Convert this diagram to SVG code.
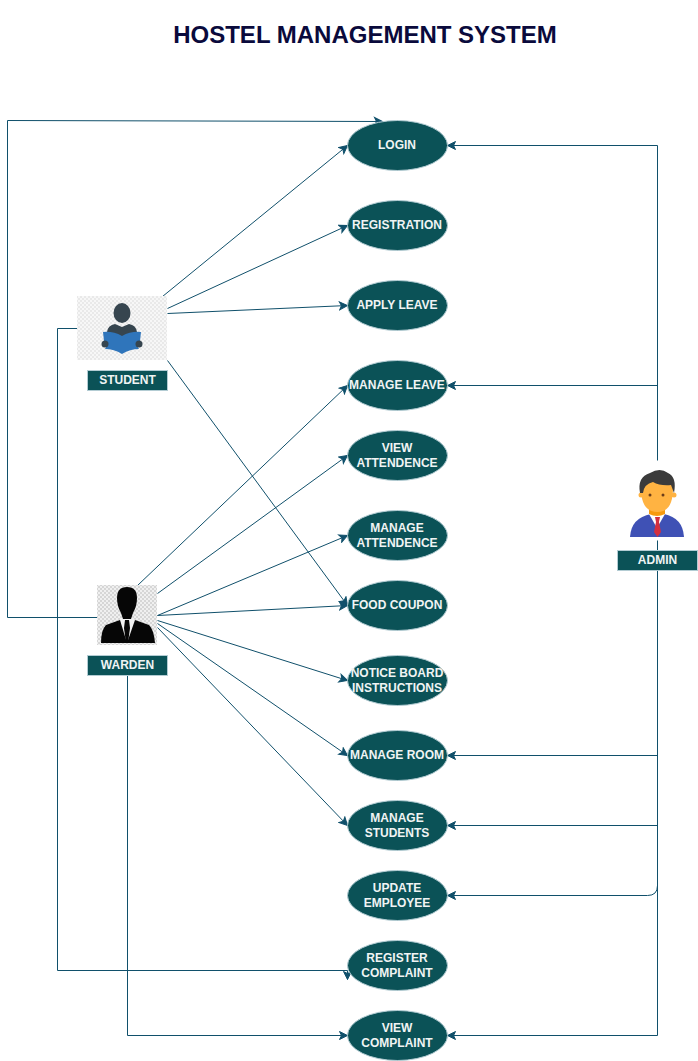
<svg xmlns="http://www.w3.org/2000/svg" width="698" height="1061" viewBox="0 0 698 1061">
<style>
.n{fill:#0b5257;stroke:#b3ccd3;stroke-width:1}
.t{font-family:"Liberation Sans",Arial,sans-serif;font-size:12px;font-weight:bold;fill:#f0f4f4;text-anchor:middle}
.c{fill:none;stroke:#10506b;stroke-width:1;marker-end:url(#a)}
.p{fill:none;stroke:#10506b;stroke-width:1}
</style>
<defs>
<marker id="a" viewBox="0 0 10 10" refX="9" refY="5" markerWidth="10" markerHeight="10" markerUnits="userSpaceOnUse" orient="auto"><path d="M1 1L9 5L1 9L3 5Z" fill="#10506b" stroke="#10506b" stroke-width="1"/></marker>
<pattern id="ck" width="4" height="4" patternUnits="userSpaceOnUse"><rect width="4" height="4" fill="#f7f7f7"/><rect width="2" height="2" fill="#e9e9e9"/><rect x="2" y="2" width="2" height="2" fill="#e9e9e9"/></pattern>
<pattern id="ck2" width="4" height="4" patternUnits="userSpaceOnUse"><rect width="4" height="4" fill="#f0f0f0"/><rect width="2" height="2" fill="#d6d6d6"/><rect x="2" y="2" width="2" height="2" fill="#d6d6d6"/></pattern>
</defs>
<text id="title" x="365" y="43" style="font-family:'Liberation Sans',Arial,sans-serif;font-size:24px;font-weight:bold;fill:#0a0a3c;text-anchor:middle">HOSTEL MANAGEMENT SYSTEM</text>
<g id="connectors" transform="translate(0.5 0.5)">
<path class="c" d="M162 296L347 145"/>
<path class="c" d="M167 308L347 225"/>
<path class="c" d="M167 313L347 305"/>
<path class="c" d="M167 360L347 605"/>
<path class="c" d="M77 328H57V970H347V979"/>
<path class="c" d="M97 617H7V120L382 121"/>
<path class="c" d="M137 585L347 385"/>
<path class="c" d="M157 593L347 455"/>
<path class="c" d="M157 615L347 535"/>
<path class="c" d="M157 615L347 605"/>
<path class="c" d="M157 620L347 680"/>
<path class="c" d="M157 623L347 755"/>
<path class="c" d="M157 627L347 825"/>
<path class="c" d="M127 675V1035H347"/>
<path class="c" d="M657 460V145H447"/>
<path class="c" d="M657 385H447"/>
<path class="p" d="M657 540V550"/>
<path class="c" d="M657 570V1035H447"/>
<path class="c" d="M657 755H447"/>
<path class="c" d="M657 825H447"/>
<path class="c" d="M657 885Q657 895 647 895H447"/>
</g>
<g id="student">
<rect x="77" y="296" width="90" height="64" fill="url(#ck)"/>
<path d="M107 332Q108 325 115 324L122 327L129 324Q136 325 137 332L122 338Z" fill="#36454f"/>
<ellipse cx="122" cy="313" rx="8.500" ry="10" fill="#36454f"/>
<path d="M103 332Q113 331 122 336Q131 331 141 332L140 341L136 344L139 349Q130 349 122 354Q114 349 105 349L108 344L104 341Z" fill="#2f75bb"/>
<circle cx="105" cy="344" r="3.500" fill="#36454f"/><circle cx="139" cy="344" r="3.500" fill="#36454f"/>
<rect class="n" x="87.500" y="370.500" width="80" height="20"/>
<text class="t" x="127.500" y="384">STUDENT</text>
</g>
<g id="warden">
<rect x="97" y="585" width="60" height="60" fill="url(#ck2)"/>
<path d="M101 643Q101 630 106 625L120 620H135L149 625Q154 630 155 643Z" fill="#060606"/>
<path d="M120 620L127 643L135 620L130 615H124Z" fill="#f2f2f2"/>
<path d="M125 620H129L130 628L128 643H126L124 628Z" fill="#060606"/>
<path d="M117 598Q117 587 127 587Q137 587 137 598Q137 606 133 613L131 619H123L121 613Q117 606 117 598Z" fill="#060606"/>
<rect class="n" x="87.500" y="655.500" width="80" height="20"/>
<text class="t" x="127.500" y="669">WARDEN</text>
</g>
<g id="admin">
<path d="M630 537Q631 518 651 514H664Q683 518 684 537Z" fill="#3f51b5"/>
<path d="M649 514L657 528L665 514Z" fill="#fff"/>
<path d="M649 509H665V514Q657 518 649 514Z" fill="#f79a0e"/>
<path d="M655 517H660L659 522L661 532L657.500 537L654 532L656 522Z" fill="#d32f3f"/>
<circle cx="641" cy="495" r="2.500" fill="#ffb342"/><circle cx="674" cy="495" r="2.500" fill="#ffb342"/>
<path d="M641 488Q641 512 657.500 512Q673 512 673 488Q673 478 657.500 478Q641 478 641 488Z" fill="#ffb342"/>
<path d="M640 493Q637 477 650 473Q660 467 668 473Q677 477 674 493L671 485Q660 486 653 482Q644 484 643 493Z" fill="#3b3b3b"/>
<circle cx="650" cy="495" r="1.500" fill="#6b3d1a"/><circle cx="663" cy="495" r="1.500" fill="#6b3d1a"/>
<rect class="n" x="617.500" y="550.500" width="80" height="20"/>
<text class="t" x="657.500" y="564">ADMIN</text>
</g>
<g id="login"><ellipse class="n" cx="397.500" cy="145.500" rx="50" ry="25"/><text class="t" x="397" y="149">LOGIN</text></g>
<g id="registration"><ellipse class="n" cx="397.500" cy="225.500" rx="50" ry="25"/><text class="t" x="397" y="229">REGISTRATION</text></g>
<g id="apply-leave"><ellipse class="n" cx="397.500" cy="305.500" rx="50" ry="25"/><text class="t" x="397" y="309">APPLY LEAVE</text></g>
<g id="manage-leave"><ellipse class="n" cx="397.500" cy="385.500" rx="50" ry="25"/><text class="t" x="397" y="389">MANAGE LEAVE</text></g>
<g id="view-attendence"><ellipse class="n" cx="397.500" cy="455.500" rx="50" ry="25"/><text class="t" x="397" y="452">VIEW</text><text class="t" x="397" y="467">ATTENDENCE</text></g>
<g id="manage-attendence"><ellipse class="n" cx="397.500" cy="535.500" rx="50" ry="25"/><text class="t" x="397" y="532">MANAGE</text><text class="t" x="397" y="547">ATTENDENCE</text></g>
<g id="food-coupon"><ellipse class="n" cx="397.500" cy="605.500" rx="50" ry="25"/><text class="t" x="397" y="609">FOOD COUPON</text></g>
<g id="notice-board"><ellipse class="n" cx="397.500" cy="680.500" rx="50" ry="25"/><text class="t" x="397" y="677">NOTICE BOARD</text><text class="t" x="397" y="692">INSTRUCTIONS</text></g>
<g id="manage-room"><ellipse class="n" cx="397.500" cy="755.500" rx="50" ry="25"/><text class="t" x="397" y="759">MANAGE ROOM</text></g>
<g id="manage-students"><ellipse class="n" cx="397.500" cy="825.500" rx="50" ry="25"/><text class="t" x="397" y="822">MANAGE</text><text class="t" x="397" y="837">STUDENTS</text></g>
<g id="update-employee"><ellipse class="n" cx="397.500" cy="895.500" rx="50" ry="25"/><text class="t" x="397" y="892">UPDATE</text><text class="t" x="397" y="907">EMPLOYEE</text></g>
<g id="register-complaint"><ellipse class="n" cx="397.500" cy="965.500" rx="50" ry="25"/><text class="t" x="397" y="962">REGISTER</text><text class="t" x="397" y="977">COMPLAINT</text></g>
<g id="view-complaint"><ellipse class="n" cx="397.500" cy="1035.500" rx="50" ry="25"/><text class="t" x="397" y="1032">VIEW</text><text class="t" x="397" y="1047">COMPLAINT</text></g>
</svg>
